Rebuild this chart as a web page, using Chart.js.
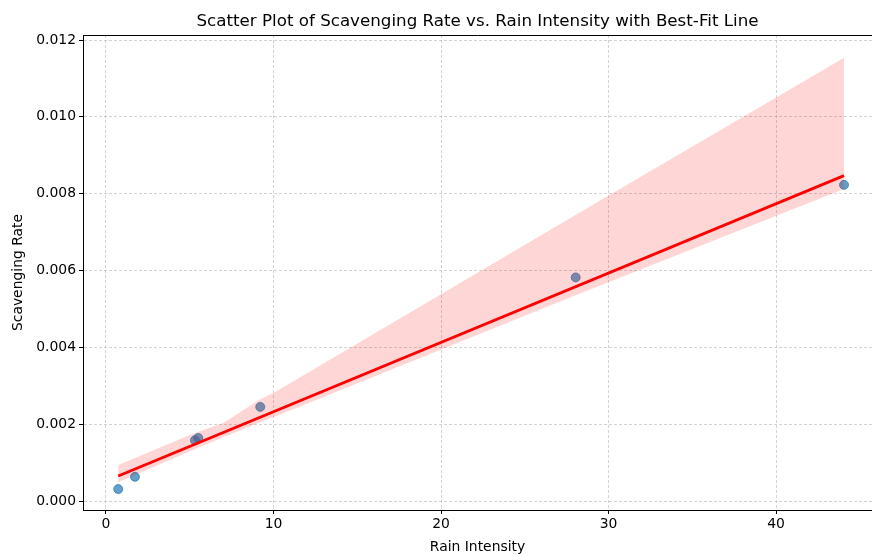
<!DOCTYPE html>
<html>
<head>
<meta charset="utf-8">
<script src="https://cdn.jsdelivr.net/npm/chart.js@4/dist/chart.umd.min.js"></script>
<style>
html,body{margin:0;padding:0;background:#fff;}
#wrap{width:872px;height:556px;position:relative;}
</style>
</head>
<body>
<div id="wrap"><canvas id="c" width="872" height="556"></canvas></div>
<script>
// Observed data points
const rainIntensity = [0.73, 1.73, 5.31, 5.51, 9.21, 28.04, 44.06];
const scavengingRate = [0.00031, 0.00063, 0.00158, 0.00164, 0.00245, 0.00582, 0.00823];
// Best-fit line endpoints
const fitX = [0.73, 44.06];
const fitY = [0.00065, 0.00847];
// Confidence band
const bandX = [0.73, 5.3, 7.0, 9.2, 10.1, 28.0, 44.06];
const bandUpper = [0.00094, 0.00177, 0.00203, 0.00265, 0.00284, 0.00744, 0.01154];
const bandLower = [0.00049, 0.00135, 0.00166, 0.00205, 0.00220, 0.00535, 0.00812];
// Tick labels
const xTicks = [0, 10, 20, 30, 40];
const yTicks = [0.000, 0.002, 0.004, 0.006, 0.008, 0.010, 0.012];

const pts = (xs, ys) => xs.map((x, i) => ({x: x, y: ys[i]}));

const topSpine = {
  id: 'topSpine',
  afterDraw(chart) {
    const a = chart.chartArea, ctx = chart.ctx;
    ctx.save();
    ctx.strokeStyle = '#000';
    ctx.lineWidth = 1;
    ctx.beginPath();
    ctx.moveTo(a.left, Math.round(a.top) + 0.5);
    ctx.lineTo(a.right, Math.round(a.top) + 0.5);
    ctx.stroke();
    ctx.restore();
  }
};

const FONT = "'DejaVu Sans', sans-serif";

new Chart(document.getElementById('c'), {
  type: 'scatter',
  data: {
    datasets: [
      {
        type: 'line', label: 'fit', data: pts(fitX, fitY),
        borderColor: '#ff0000', borderWidth: 2.8, pointRadius: 0, fill: false, order: 0
      },
      {
        type: 'line', label: 'upper', data: pts(bandX, bandUpper),
        borderWidth: 0, borderColor: 'rgba(0,0,0,0)', pointRadius: 0,
        backgroundColor: 'rgba(255,0,0,0.16)', fill: '+1', order: 1
      },
      {
        type: 'line', label: 'lower', data: pts(bandX, bandLower),
        borderWidth: 0, borderColor: 'rgba(0,0,0,0)', pointRadius: 0, fill: false, order: 1
      },
      {
        label: 'points', data: pts(rainIntensity, scavengingRate),
        backgroundColor: 'rgba(31,119,180,0.7)', borderColor: 'rgba(31,119,180,0.7)',
        borderWidth: 1, pointRadius: 4.5, order: 2
      }
    ]
  },
  options: {
    responsive: false,
    animation: false,
    devicePixelRatio: 1,
    layout: {autoPadding: false, padding: {left: 10, right: 0, top: 0, bottom: 0}},
    plugins: {
      legend: {display: false},
      tooltip: {enabled: false},
      title: {
        display: true,
        fullSize: false,
        text: 'Scatter Plot of Scavenging Rate vs. Rain Intensity with Best-Fit Line',
        color: '#000',
        font: {family: FONT, size: 16.7, weight: 'normal'},
        padding: {top: 12, bottom: 3}
      }
    },
    scales: {
      x: {
        type: 'linear', min: -1.373, max: 45.73,
        afterBuildTicks: s => { s.ticks = xTicks.map(v => ({value: v})); },
        afterFit: s => { s.height = 46; },
        ticks: {
          color: '#000', font: {family: FONT, size: 13.9}, padding: 2,
          maxRotation: 0, callback: v => String(v)
        },
        grid: {color: 'rgba(176,176,176,0.7)', lineWidth: 0.8, tickColor: '#000', tickLength: 4, tickWidth: 1},
        border: {display: true, color: '#000', width: 1, dash: [3, 2]},
        title: {display: true, text: 'Rain Intensity', color: '#000', font: {family: FONT, size: 13.9}, padding: {top: 2, bottom: 0}}
      },
      y: {
        type: 'linear', min: -0.000234, max: 0.01213,
        afterBuildTicks: s => { s.ticks = yTicks.map(v => ({value: v})); },
        afterFit: s => { s.width = 73; },
        ticks: {
          color: '#000', font: {family: FONT, size: 13.9}, padding: 3,
          callback: v => Number(v).toFixed(3)
        },
        grid: {color: 'rgba(176,176,176,0.7)', lineWidth: 0.8, tickColor: '#000', tickLength: 4, tickWidth: 1},
        border: {display: true, color: '#000', width: 1, dash: [3, 2]},
        title: {display: true, text: 'Scavenging Rate', color: '#000', font: {family: FONT, size: 13.9}, padding: {top: 0, bottom: 4}}
      }
    }
  },
  plugins: [topSpine]
});
</script>
</body>
</html>
